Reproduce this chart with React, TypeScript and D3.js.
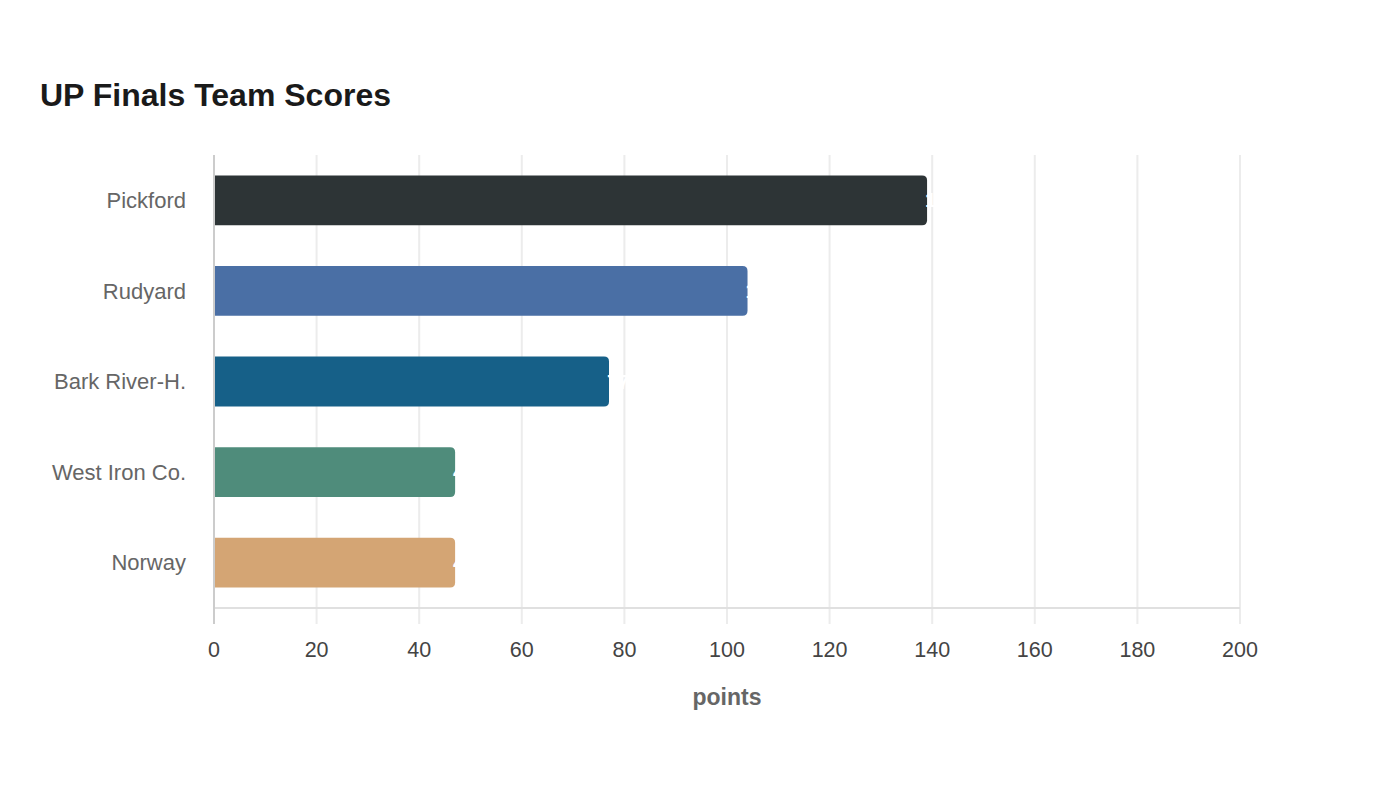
import { useRef, useEffect } from "react";
import { select, scaleLinear, scaleBand, range } from "d3";

const teams = ["Pickford", "Rudyard", "Bark River-H.", "West Iron Co.", "Norway"];
const scores = [139, 104, 77, 47, 47];
const colors = ["#2d3436", "#4a6fa5", "#166088", "#4f8c7b", "#d4a574"];
const ticks = [0, 20, 40, 60, 80, 100, 120, 140, 160, 180, 200];

const W = 1400;
const H = 800;
const margin = { top: 155, right: 160, bottom: 192, left: 214 };

// bar with rounded right end only
function barPath(x0: number, x1: number, y: number, h: number, r: number) {
  const rr = Math.min(r, (x1 - x0) / 2, h / 2);
  return `M${x0},${y}H${x1 - rr}Q${x1},${y} ${x1},${y + rr}V${y + h - rr}Q${x1},${y + h} ${x1 - rr},${y + h}H${x0}Z`;
}

export default function App() {
  const ref = useRef<SVGSVGElement | null>(null);

  useEffect(() => {
    const svg = select(ref.current!);
    svg.selectAll("*").remove();
    const font = "'Liberation Sans', Arial, sans-serif";

    const x = scaleLinear().domain([0, 200]).range([margin.left, W - margin.right]);
    const y = scaleBand<string>()
      .domain(teams)
      .range([margin.top, H - margin.bottom])
      .paddingInner(0.45)
      .paddingOuter(0.225);

    const y0 = margin.top;
    const y1 = H - margin.bottom;

    //title
    svg
      .append("text")
      .attr("x", 40)
      .attr("y", 106)
      .attr("font-family", font)
      .attr("font-size", 32)
      .attr("font-weight", "bold")
      .attr("fill", "#1a1a1a")
      .text("UP Finals Team Scores");

    //grid
    svg
      .append("g")
      .selectAll("line")
      .data(ticks.slice(1))
      .join("line")
      .attr("x1", (d) => x(d))
      .attr("x2", (d) => x(d))
      .attr("y1", y0)
      .attr("y2", y1 + 16)
      .attr("stroke", "#ececec")
      .attr("stroke-width", 2);

    //x axis line
    svg
      .append("line")
      .attr("x1", x(0))
      .attr("x2", x(200))
      .attr("y1", y1)
      .attr("y2", y1)
      .attr("stroke", "#e0e0e0")
      .attr("stroke-width", 2);

    svg
      .append("line")
      .attr("x1", x(0))
      .attr("x2", x(0))
      .attr("y1", y0)
      .attr("y2", y1 + 16)
      .attr("stroke", "#cccccc")
      .attr("stroke-width", 2);

    //tick labels
    svg
      .append("g")
      .selectAll("text")
      .data(ticks)
      .join("text")
      .attr("x", (d) => x(d))
      .attr("y", 657)
      .attr("text-anchor", "middle")
      .attr("font-family", font)
      .attr("font-size", 21.5)
      .attr("fill", "#444")
      .text((d) => d);

    svg
      .append("text")
      .attr("x", (x(0) + x(200)) / 2)
      .attr("y", 705)
      .attr("text-anchor", "middle")
      .attr("font-family", font)
      .attr("font-size", 23)
      .attr("font-weight", "bold")
      .attr("fill", "#666")
      .text("points");

    //category labels
    svg
      .append("g")
      .selectAll("text")
      .data(teams)
      .join("text")
      .attr("x", 186)
      .attr("y", (d) => y(d)! + y.bandwidth() / 2)
      .attr("dy", "0.35em")
      .attr("text-anchor", "end")
      .attr("font-family", font)
      .attr("font-size", 22)
      .attr("fill", "#666")
      .text((d) => d);

    //bars
    svg
      .append("g")
      .selectAll("path")
      .data(range(teams.length))
      .join("path")
      .attr("d", (i) => barPath(x(0) + 1, x(scores[i]), y(teams[i])!, y.bandwidth(), 5))
      .attr("fill", (i) => colors[i]);

    //value labels (white)
    svg
      .append("g")
      .selectAll("text")
      .data(range(teams.length))
      .join("text")
      .attr("x", (i) => x(scores[i]) - 2)
      .attr("y", (i) => y(teams[i])! + y.bandwidth() / 2)
      .attr("dy", "0.35em")
      .attr("font-family", font)
      .attr("font-size", 20)
      .attr("font-weight", "bold")
      .attr("fill", "#fff")
      .text((i) => scores[i]);
  }, []);

  return <svg ref={ref} width={W} height={H} style={{ position: "absolute", left: 0, top: 0 }}></svg>;
}
